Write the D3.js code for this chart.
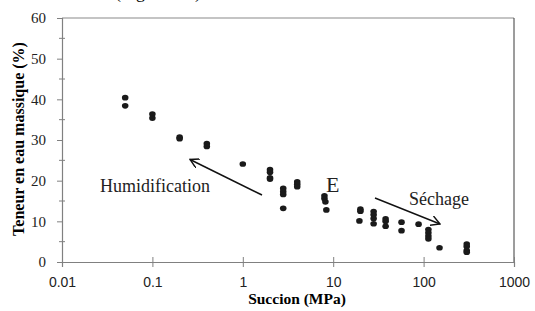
<!DOCTYPE html>
<html>
<head>
<meta charset="utf-8">
<script src="https://cdn.jsdelivr.net/npm/d3@7"></script>
<style>
  body { margin: 0; background: #fff; }
  svg { display: block; }
</style>
</head>
<body>
<svg width="535" height="311"></svg>
<script>
// Succion (MPa) and teneur en eau (%)
var succion = [0.05, 0.05, 0.1, 0.1, 0.2, 0.2, 0.4, 0.4, 1,
               2, 2, 2, 2, 2.8, 2.8, 2.8, 2.8, 4, 4, 4,
               8, 8, 8.2, 8.4, 19.5, 20, 20, 28, 28, 28, 28,
               38, 38, 38, 57, 57, 88, 113, 113, 113, 113, 150,
               300, 300, 300, 300];
var teneur = [40.4, 38.4, 36.4, 35.4, 30.7, 30.3, 29.1, 28.4, 24.1,
              22.7, 22.1, 20.7, 20.4, 18.1, 17.3, 16.6, 13.2, 19.7, 19.1, 18.5,
              16.3, 15.6, 14.8, 12.8, 10.1, 13.0, 12.5, 12.4, 11.6, 10.7, 9.4,
              10.6, 10.0, 8.8, 9.8, 7.7, 9.3, 8.0, 7.2, 6.4, 5.7, 3.5,
              4.4, 3.8, 2.8, 2.4];
var xTicks = [0.01, 0.1, 1, 10, 100, 1000];
var yTicks = [0, 10, 20, 30, 40, 50, 60];
var yMinor = [5, 15, 25, 35, 45, 55];

var svg = d3.select("svg"),
    plotLeft = 62, plotRight = 514, plotTop = 18, plotBottom = 262;

var x = d3.scaleLog().domain([0.01, 1000]).range([plotLeft, plotRight]);
var y = d3.scaleLinear().domain([0, 60]).range([plotBottom, plotTop]);

// cut-off caption line from the page above (only its descenders show)
svg.append("text")
    .attr("x", 115).attr("y", -2)
    .style("font", "18px 'Liberation Serif', serif")
    .text("(Figure 2.4)");

// plot frame: top and right
svg.append("line").attr("x1", plotLeft).attr("x2", plotRight).attr("y1", plotTop).attr("y2", plotTop)
    .attr("stroke", "#8a8a8a").attr("stroke-width", 1.2);
svg.append("line").attr("x1", plotRight).attr("x2", plotRight).attr("y1", plotTop).attr("y2", plotBottom)
    .attr("stroke", "#3a3a3a").attr("stroke-width", 1);

// y axis
var yAxis = svg.append("g")
    .attr("transform", "translate(" + plotLeft + ",0)")
    .call(d3.axisLeft(y).tickValues(yTicks).tickSize(5).tickPadding(11).tickFormat(d3.format("d")));
yAxis.select(".domain").attr("stroke", "#808080").attr("stroke-width", 1.2);
yAxis.selectAll(".tick line").attr("stroke", "#808080");
yAxis.selectAll(".tick text")
    .style("font", "15px 'Liberation Serif', serif").attr("fill", "#222");

svg.append("g").selectAll("line")
    .data(yMinor)
    .enter().append("line")
      .attr("x1", plotLeft - 3).attr("x2", plotLeft + 3)
      .attr("y1", function(d) { return y(d); })
      .attr("y2", function(d) { return y(d); })
      .attr("stroke", "#808080");

// x axis
var xAxis = svg.append("g")
    .attr("transform", "translate(0," + plotBottom + ")")
    .call(d3.axisBottom(x).tickValues(xTicks).tickSize(5).tickPadding(10)
      .tickFormat(function(d) { return String(d); }));
xAxis.select(".domain").attr("stroke", "#808080").attr("stroke-width", 1.2);
xAxis.selectAll(".tick line").attr("y1", -5).attr("stroke", "#808080");
xAxis.selectAll(".tick text")
    .style("font", "14px 'Liberation Sans', Arial, sans-serif").attr("fill", "#222");

// axis titles
svg.append("text")
    .attr("x", (plotLeft + plotRight) / 2 + 9).attr("y", 304)
    .attr("text-anchor", "middle")
    .style("font", "bold 15.5px 'Liberation Serif', serif")
    .text("Succion (MPa)");

svg.append("text")
    .attr("transform", "translate(24," + 139 + ") rotate(-90)")
    .attr("text-anchor", "middle")
    .style("font", "bold 16px 'Liberation Serif', serif")
    .text("Teneur en eau massique (%)");

// points
svg.append("g").selectAll("path")
    .data(succion)
    .enter().append("path")
      .attr("d", d3.symbol().type(d3.symbolCircle).size(28))
      .attr("transform", function(d, i) { return "translate(" + x(d) + "," + y(teneur[i]) + ") scale(1.1,0.95)"; })
      .attr("fill", "#1a1a1a");

// arrows
svg.append("defs").append("marker")
    .attr("id", "head")
    .attr("viewBox", "0 0 10 10")
    .attr("refX", 9).attr("refY", 5)
    .attr("markerWidth", 10).attr("markerHeight", 10)
    .attr("markerUnits", "userSpaceOnUse")
    .attr("orient", "auto")
  .append("path")
    .attr("d", "M0,0 L9,5 L0,10")
    .attr("fill", "none").attr("stroke", "#111").attr("stroke-width", 1.4);

svg.append("line")
    .attr("x1", 262).attr("y1", 195).attr("x2", 190).attr("y2", 159.5)
    .attr("stroke", "#111").attr("stroke-width", 1.5).attr("marker-end", "url(#head)");
svg.append("line")
    .attr("x1", 375).attr("y1", 198).attr("x2", 440).attr("y2", 224)
    .attr("stroke", "#111").attr("stroke-width", 1.5).attr("marker-end", "url(#head)");

// annotations
svg.append("text")
    .attr("x", 100).attr("y", 192)
    .style("font", "18px 'Liberation Serif', serif").attr("fill", "#222")
    .text("Humidification");
svg.append("text")
    .attr("x", 409).attr("y", 205)
    .style("font", "18px 'Liberation Serif', serif").attr("fill", "#222")
    .text("Séchage");
svg.append("text")
    .attr("x", 326).attr("y", 192)
    .style("font", "22px 'Liberation Serif', serif").attr("fill", "#222")
    .text("E");
</script>
</body>
</html>
